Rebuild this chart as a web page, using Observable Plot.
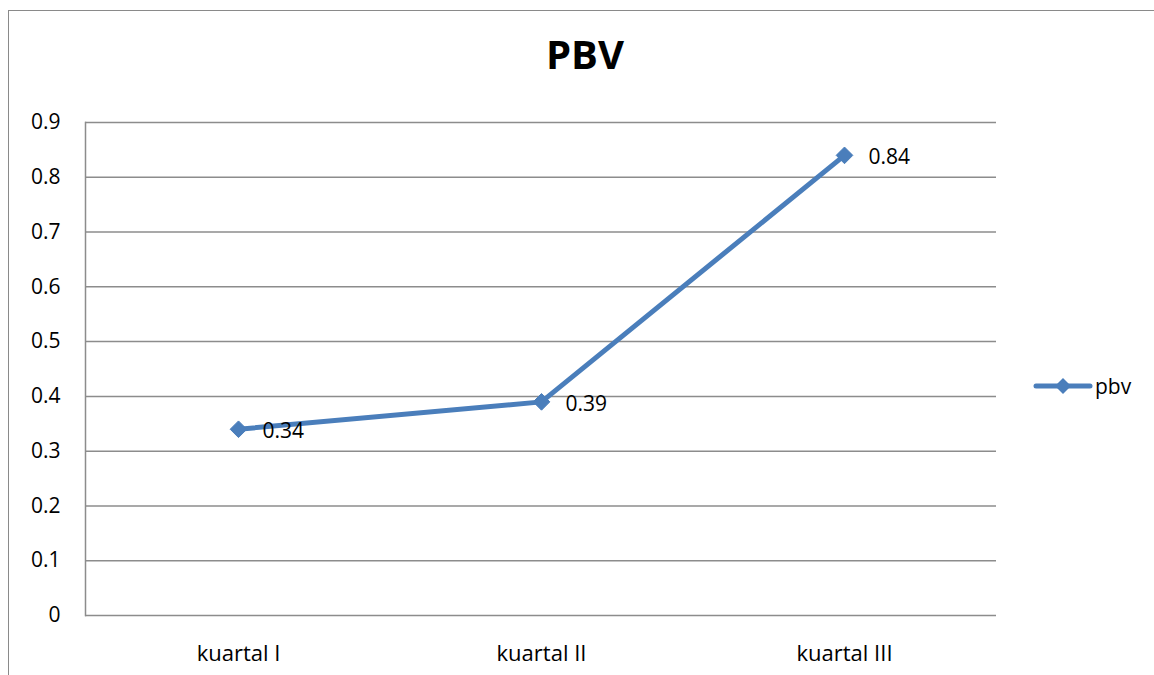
<!DOCTYPE html>
<html>
<head>
<meta charset="utf-8">
<script src="https://cdn.jsdelivr.net/npm/d3@7"></script>
<script src="https://cdn.jsdelivr.net/npm/@observablehq/plot@0.6"></script>
<style>
  html, body { margin: 0; padding: 0; background: #fff; }
  #wrap { position: relative; width: 1154px; height: 675px; overflow: hidden; font-family: "Open Sans", sans-serif; }
  #frame { position: absolute; left: 8px; top: 10px; width: 1200px; height: 700px; border-left: 1.5px solid #8a8a8a; border-top: 1.5px solid #8a8a8a; }
  #title { position: absolute; left: 0; top: 34px; width: 1170px; text-align: center; font-size: 40px; font-weight: 700; color: #000; line-height: 1; }
  #chart { position: absolute; left: 0; top: 0; }
  #legend { position: absolute; left: 1033px; top: 372px; display: flex; align-items: center; font-size: 21px; color: #000; }
</style>
</head>
<body>
<div id="wrap">
  <div id="frame"></div>
  <div id="chart"></div>
  <div id="title">PBV</div>
  <div id="legend"></div>
</div>
<script>
const categories = ["kuartal I", "kuartal II", "kuartal III"];
const values = [0.34, 0.39, 0.84];
const seriesName = "pbv";
const yTicks = [0, 0.1, 0.2, 0.3, 0.4, 0.5, 0.6, 0.7, 0.8, 0.9];

const data = categories.map((c, i) => ({category: c, value: values[i]}));
const blue = "#4a7ebb";
const grid = "#8c8c8c";

const chart = Plot.plot({
  width: 1154,
  height: 675,
  marginLeft: 85,
  marginRight: 158,
  marginTop: 122,
  marginBottom: 60,
  style: {fontFamily: "Open Sans, sans-serif", fontSize: "21px", color: "#000", background: "transparent"},
  x: {type: "point", domain: categories, padding: 0.5, label: null},
  y: {domain: [0, 0.9], label: null},
  marks: [
    Plot.ruleY(yTicks, {stroke: grid, strokeWidth: 1.5}),
    Plot.frame({anchor: "left", stroke: grid, strokeWidth: 1.5}),
    Plot.axisY(yTicks, {tickSize: 0, tickPadding: 25, tickFormat: d => d === 0 ? "0" : d.toFixed(1), fill: "#000", fontSize: 21, label: null}),
    Plot.axisX({tickSize: 0, tickPadding: 30, fill: "#000", fontSize: 22, label: null}),
    Plot.line(data, {x: "category", y: "value", stroke: blue, strokeWidth: 5}),
    Plot.dot(data, {x: "category", y: "value", symbol: "diamond2", r: 7.5, fill: blue, stroke: blue, strokeWidth: 1}),
    Plot.text(data, {x: "category", y: "value", text: d => String(d.value), textAnchor: "start", dx: 24, dy: 2, fontSize: 21, fill: "#000"})
  ]
});
document.getElementById("chart").appendChild(chart);

// legend
const leg = document.getElementById("legend");
const ns = "http://www.w3.org/2000/svg";
const sw = document.createElementNS(ns, "svg");
sw.setAttribute("width", "60");
sw.setAttribute("height", "28");
const ln = document.createElementNS(ns, "line");
ln.setAttribute("x1", "3"); ln.setAttribute("x2", "57");
ln.setAttribute("y1", "14"); ln.setAttribute("y2", "14");
ln.setAttribute("stroke", blue); ln.setAttribute("stroke-width", "5"); ln.setAttribute("stroke-linecap", "round");
sw.appendChild(ln);
const dm = document.createElementNS(ns, "path");
dm.setAttribute("d", "M30,6 L38,14 L30,22 L22,14 Z");
dm.setAttribute("fill", blue);
sw.appendChild(dm);
leg.appendChild(sw);
const lt = document.createElement("span");
lt.textContent = seriesName;
lt.style.marginLeft = "2px";
lt.style.lineHeight = "1";
leg.appendChild(lt);
</script>
</body>
</html>
